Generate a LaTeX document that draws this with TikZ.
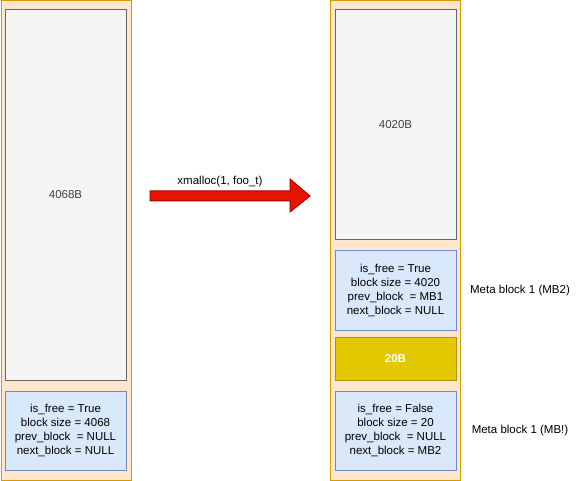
\documentclass[tikz,border=0pt]{standalone}
\usepackage{fontspec}
\setmainfont{Liberation Sans}
\usepackage{tikz}
\usetikzlibrary{positioning,calc}
\definecolor{heapfill}{HTML}{FFE6CC}
\definecolor{heapline}{HTML}{D79B00}
\definecolor{datafill}{HTML}{F5F5F5}
\definecolor{dataline}{HTML}{666666}
\definecolor{metafill}{HTML}{DAE8FC}
\definecolor{metaline}{HTML}{6C8EBF}
\definecolor{usedfill}{HTML}{E3C800}
\definecolor{usedline}{HTML}{B09500}
\definecolor{arrfill}{HTML}{E51400}
\definecolor{arrline}{HTML}{B20000}

\begin{document}
\begin{tikzpicture}[x=1pt,y=-1pt,font=\fontsize{11.5}{13.8}\selectfont]
\tikzstyle{heap}=[rectangle,draw=heapline,fill=heapfill,line width=1pt,minimum width=130pt,minimum height=479pt,inner sep=0pt]
\tikzstyle{data}=[rectangle,draw=dataline,fill=datafill,line width=1pt,minimum width=121pt,inner sep=0pt,text=black!75]
\tikzstyle{meta}=[rectangle,draw=metaline,fill=metafill,line width=1pt,minimum width=121pt,minimum height=79pt,inner sep=0pt,align=center]
\tikzstyle{used}=[rectangle,draw=usedline,fill=usedfill,line width=1pt,minimum width=121pt,minimum height=43pt,inner sep=0pt,text=white,font=\fontsize{11.5}{13.8}\selectfont\bfseries]
\tikzstyle{bigarrow}=[draw=arrline,fill=arrfill,line width=1pt,line join=miter]
\useasboundingbox (0,0) rectangle (581,481);

% before
\node [heap] (before) at (66,240.5) {};
\node [data,minimum height=370pt] (free0) at (65.5,195) {4068B};
\node [meta] (meta0) at (65.5,430.5) {is\_free = True\\block size = 4068\\prev\_block~ = NULL\\next\_block = NULL};

% after
\node [heap] (after) at (395.5,240.5) {};
\node [data,minimum height=230pt] (free1) at (395.5,125) {4020B};
\node [meta] (mb2) at (395.5,290.5) {is\_free = True\\block size = 4020\\prev\_block~ = MB1\\next\_block = NULL};
\node [used] (payload) at (395.5,358.5) {20B};
\node [meta] (mb1) at (395.5,430.5) {is\_free = False\\block size = 20\\prev\_block~ = NULL\\next\_block = MB2};

\node (mb2label) at (520,291) {Meta block 1 (MB2)};
\node (mb1label) at (520,431) {Meta block 1 (MB!)};

% the call
\coordinate (tail) at (150,196);
\coordinate (tip) at (310,196);
\draw [bigarrow] ($(tail)+(0,-5)$) -- (290,191) -- (290,179) -- (tip) -- (290,212) -- (290,201) -- ($(tail)+(0,5)$) -- cycle;
\node (call) at (220,182) {xmalloc(1, foo\_t)};
\end{tikzpicture}
\end{document}
